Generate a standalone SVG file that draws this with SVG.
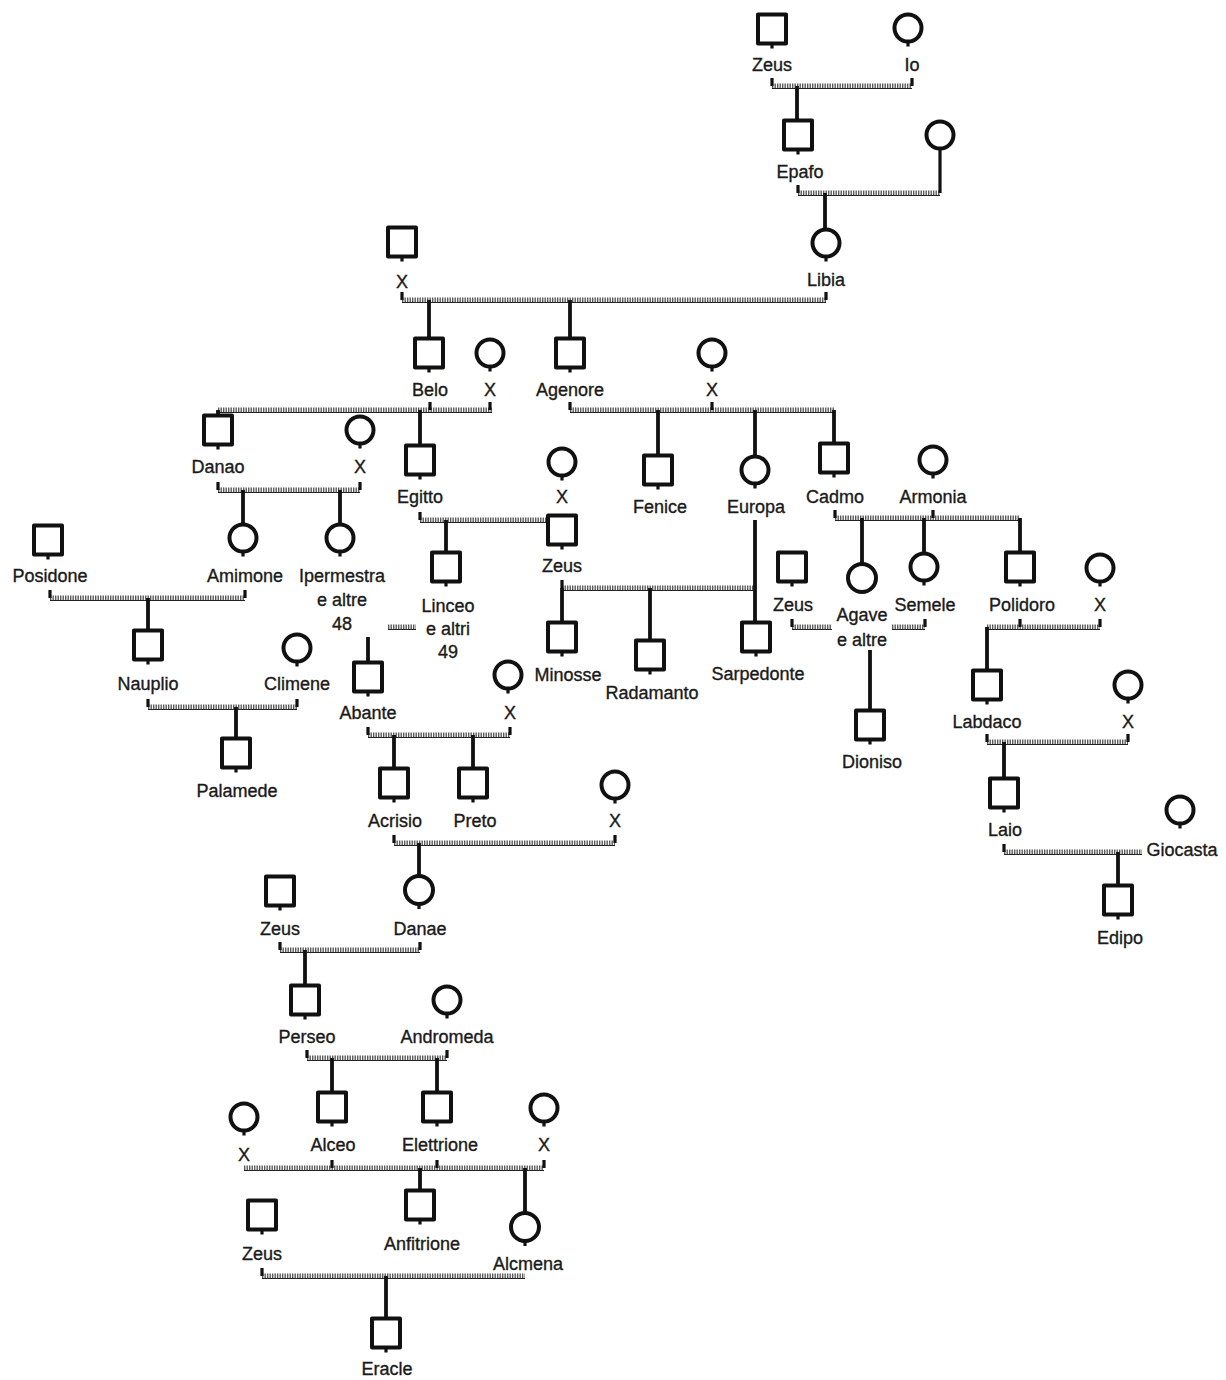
<svg xmlns="http://www.w3.org/2000/svg" width="1226" height="1380" viewBox="0 0 1226 1380">
<style>
.s{fill:none;stroke:#111;stroke-width:4;stroke-linejoin:round}
.t{font-family:"Liberation Sans",Arial,sans-serif;font-size:18px;fill:#1a1a1a;stroke:#1a1a1a;stroke-width:0.35;text-anchor:middle}
.d{stroke:#111;stroke-width:3.8;fill:none}
.k{stroke:#111;stroke-width:3.2;fill:none}
.m{stroke:#5a5a5a;stroke-width:5;stroke-dasharray:1.4 1.1;fill:none}
.m2{stroke:#222;stroke-width:1.2;fill:none}
</style>
<defs>
<g id="sq"><rect class="s" x="-14" y="-14.5" width="28" height="29"/><line class="k" x1="0" y1="14.5" x2="0" y2="19.5"/></g>
<g id="ci"><circle class="s" cx="0" cy="0" r="13.5"/><line class="k" x1="0" y1="13.5" x2="0" y2="18.5"/></g>
</defs>
<rect width="1226" height="1380" fill="#fff"/>
<g id="connectors">
<path class="m" d="M772 86H912 M798 193H940 M402 300H826 M218 410H492 M570 410H835 M218 490H360 M420 520H548 M562 588H755 M835 518H1020 M792 627H832 M892 627H925 M987 627H1100 M987 742H1128 M1004 852H1142 M50 598H245 M148 707H297 M388 627H416 M368 735H510 M394 843H615 M280 950H420 M307 1058H447 M244 1168H544 M262 1276H525"/>
<path class="m2" d="M772 88.5H912 M798 195.5H940 M402 302.5H826 M218 412.5H492 M570 412.5H835 M218 492.5H360 M420 522.5H548 M562 590.5H755 M835 520.5H1020 M792 629.5H832 M892 629.5H925 M987 629.5H1100 M987 744.5H1128 M1004 854.5H1142 M50 600.5H245 M148 709.5H297 M388 629.5H416 M368 737.5H510 M394 845.5H615 M280 952.5H420 M307 1060.5H447 M244 1170.5H544 M262 1278.5H525"/>
<path class="k" d="M772 78V86 M912 78V86 M798 185V193 M940 148V193 M402 292V300 M826 292V300 M430 402V410 M490 402V410 M570 402V410 M712 402V410 M218 482V490 M360 482V490 M420 512V520 M562 580V588 M835 510V518 M933 510V518 M792 619V627 M925 619V627 M1020 619V627 M1100 619V627 M987 734V742 M1128 734V742 M1004 844V852 M50 590V598 M245 590V598 M148 699V707 M297 699V707 M368 727V735 M510 727V735 M394 835V843 M615 835V843 M280 942V950 M420 942V950 M307 1050V1058 M447 1050V1058 M332 1160V1168 M437 1160V1168 M544 1160V1168 M262 1268V1276"/>
<path class="d" d="M797 86V121 M825 193V230 M429 300V339 M570 300V339 M218 410V416 M420 410V446 M243 490V525 M340 490V525 M446 520V553 M562 588V623 M650 588V641 M755 520V623 M658 410V456 M755 410V457 M834 410V444 M862 518V564 M924 518V554 M1020 518V553 M870 650V711 M987 627V671 M1004 742V779 M1118 852V886 M148 598V631 M236 707V739 M368 637V663 M394 735V769 M473 735V769 M419 843V876 M305 950V986 M332 1058V1093 M437 1058V1093 M420 1168V1191 M525 1168V1213 M386 1276V1319"/>
</g>
<g id="zeus1"><use href="#sq" x="772" y="29"/><text class="t" x="772" y="71">Zeus</text></g>
<g id="io"><use href="#ci" x="908" y="28"/><text class="t" x="912" y="71">Io</text></g>
<g id="epafo"><use href="#sq" x="798" y="135"/><text class="t" x="800" y="178">Epafo</text></g>
<g id="epafo-wife"><circle class="s" cx="940" cy="135" r="13.5"/></g>
<g id="libia"><use href="#ci" x="826" y="243"/><text class="t" x="826" y="286">Libia</text></g>
<g id="x-libia"><use href="#sq" x="402" y="242"/><text class="t" x="402" y="288">X</text></g>
<g id="belo"><use href="#sq" x="429" y="353"/><text class="t" x="430" y="396">Belo</text></g>
<g id="x-belo"><use href="#ci" x="490" y="353"/><text class="t" x="490" y="396">X</text></g>
<g id="agenore"><use href="#sq" x="570" y="353"/><text class="t" x="570" y="396">Agenore</text></g>
<g id="x-agenore"><use href="#ci" x="712" y="353"/><text class="t" x="712" y="396">X</text></g>
<g id="danao"><use href="#sq" x="218" y="430"/><text class="t" x="218" y="473">Danao</text></g>
<g id="x-danao"><use href="#ci" x="360" y="430"/><text class="t" x="360" y="473">X</text></g>
<g id="egitto"><use href="#sq" x="420" y="460"/><text class="t" x="420" y="503">Egitto</text></g>
<g id="amimone"><use href="#ci" x="243" y="538"/><text class="t" x="245" y="582">Amimone</text></g>
<g id="ipermestra"><use href="#ci" x="340" y="538"/><text class="t" x="342" y="582">Ipermestra</text><text class="t" x="342" y="606">e altre</text><text class="t" x="342" y="630">48</text></g>
<g id="linceo"><use href="#sq" x="446" y="567"/><text class="t" x="448" y="612">Linceo</text><text class="t" x="448" y="635">e altri</text><text class="t" x="448" y="658">49</text></g>
<g id="x-egitto"><use href="#ci" x="562" y="462"/><text class="t" x="562" y="503">X</text></g>
<g id="zeus2"><use href="#sq" x="562" y="530"/><text class="t" x="562" y="572">Zeus</text></g>
<g id="minosse"><use href="#sq" x="562" y="637"/><text class="t" x="568" y="681">Minosse</text></g>
<g id="radamanto"><use href="#sq" x="650" y="655"/><text class="t" x="652" y="699">Radamanto</text></g>
<g id="sarpedonte"><use href="#sq" x="756" y="637"/><text class="t" x="758" y="680">Sarpedonte</text></g>
<g id="fenice"><use href="#sq" x="658" y="470"/><text class="t" x="660" y="513">Fenice</text></g>
<g id="europa"><use href="#ci" x="755" y="470"/><text class="t" x="756" y="513">Europa</text></g>
<g id="cadmo"><use href="#sq" x="834" y="458"/><text class="t" x="835" y="503">Cadmo</text></g>
<g id="armonia"><use href="#ci" x="933" y="460"/><text class="t" x="933" y="503">Armonia</text></g>
<g id="agave"><circle class="s" cx="862" cy="578" r="14"/><text class="t" x="862" y="621">Agave</text><text class="t" x="862" y="646">e altre</text></g>
<g id="semele"><use href="#ci" x="924" y="567"/><text class="t" x="925" y="611">Semele</text></g>
<g id="polidoro"><use href="#sq" x="1020" y="567"/><text class="t" x="1022" y="611">Polidoro</text></g>
<g id="zeus3"><use href="#sq" x="792" y="567"/><text class="t" x="793" y="611">Zeus</text></g>
<g id="dioniso"><use href="#sq" x="870" y="725"/><text class="t" x="872" y="768">Dioniso</text></g>
<g id="x-polidoro"><use href="#ci" x="1100" y="568"/><text class="t" x="1100" y="611">X</text></g>
<g id="labdaco"><use href="#sq" x="987" y="685"/><text class="t" x="987" y="728">Labdaco</text></g>
<g id="x-labdaco"><use href="#ci" x="1128" y="685"/><text class="t" x="1128" y="728">X</text></g>
<g id="laio"><use href="#sq" x="1004" y="793"/><text class="t" x="1005" y="836">Laio</text></g>
<g id="giocasta"><use href="#ci" x="1180" y="810"/><text class="t" x="1182" y="856">Giocasta</text></g>
<g id="edipo"><use href="#sq" x="1118" y="900"/><text class="t" x="1120" y="944">Edipo</text></g>
<g id="posidone"><use href="#sq" x="48" y="540"/><text class="t" x="50" y="582">Posidone</text></g>
<g id="nauplio"><use href="#sq" x="148" y="645"/><text class="t" x="148" y="690">Nauplio</text></g>
<g id="climene"><use href="#ci" x="297" y="648"/><text class="t" x="297" y="690">Climene</text></g>
<g id="palamede"><use href="#sq" x="236" y="753"/><text class="t" x="237" y="797">Palamede</text></g>
<g id="abante"><use href="#sq" x="368" y="677"/><text class="t" x="368" y="719">Abante</text></g>
<g id="x-abante"><use href="#ci" x="508" y="675"/><text class="t" x="510" y="719">X</text></g>
<g id="acrisio"><use href="#sq" x="394" y="783"/><text class="t" x="395" y="827">Acrisio</text></g>
<g id="preto"><use href="#sq" x="473" y="783"/><text class="t" x="475" y="827">Preto</text></g>
<g id="x-acrisio"><use href="#ci" x="615" y="785"/><text class="t" x="615" y="827">X</text></g>
<g id="danae"><circle class="s" cx="419" cy="890" r="14"/><line class="k" x1="419" y1="904" x2="419" y2="909"/><text class="t" x="420" y="935">Danae</text></g>
<g id="zeus4"><use href="#sq" x="280" y="891"/><text class="t" x="280" y="935">Zeus</text></g>
<g id="perseo"><use href="#sq" x="305" y="1000"/><text class="t" x="307" y="1043">Perseo</text></g>
<g id="andromeda"><use href="#ci" x="447" y="1000"/><text class="t" x="447" y="1043">Andromeda</text></g>
<g id="alceo"><use href="#sq" x="332" y="1107"/><text class="t" x="333" y="1151">Alceo</text></g>
<g id="elettrione"><use href="#sq" x="437" y="1107"/><text class="t" x="440" y="1151">Elettrione</text></g>
<g id="x-alceo"><use href="#ci" x="244" y="1117"/><text class="t" x="244" y="1161">X</text></g>
<g id="x-elettrione"><use href="#ci" x="544" y="1108"/><text class="t" x="544" y="1151">X</text></g>
<g id="anfitrione"><use href="#sq" x="420" y="1205"/><text class="t" x="422" y="1250">Anfitrione</text></g>
<g id="alcmena"><circle class="s" cx="525" cy="1227" r="14"/><line class="k" x1="525" y1="1241" x2="525" y2="1246"/><text class="t" x="528" y="1270">Alcmena</text></g>
<g id="zeus5"><use href="#sq" x="262" y="1215"/><text class="t" x="262" y="1260">Zeus</text></g>
<g id="eracle"><use href="#sq" x="386" y="1333"/><text class="t" x="387" y="1375">Eracle</text></g>
</svg>
